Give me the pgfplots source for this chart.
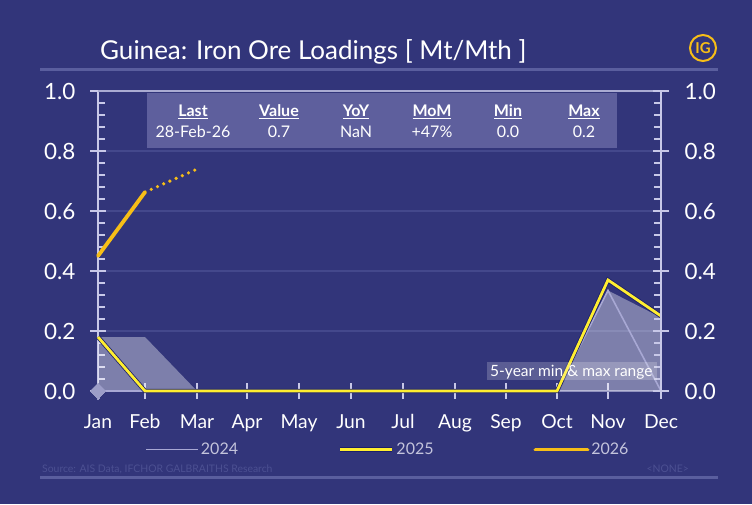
\documentclass[border=0pt]{standalone}
\usepackage{pgfplots}
\pgfplotsset{compat=1.18}
\usepackage{fontspec}
\setmainfont{Lato}
\definecolor{bg}{HTML}{32357A}
\definecolor{sepline}{HTML}{5A5E9E}
\definecolor{axisc}{HTML}{C8C8E8}
\definecolor{gridc}{HTML}{44488C}
\definecolor{boxc}{HTML}{5E5F9D}
\definecolor{c24}{HTML}{A8A8D4}
\definecolor{c25}{HTML}{FFEE30}
\definecolor{c25o}{HTML}{1C1F6A}
\definecolor{c26}{HTML}{F7BE17}
\definecolor{srcc}{HTML}{4C5092}
\definecolor{legtxt}{HTML}{C4C4DC}
\definecolor{diam}{HTML}{9C9DC8}
\begin{document}
\begin{tikzpicture}
\fill[bg] (0pt,0pt) rectangle (752pt,504pt);
% title
\node[anchor=base west,text=white,font=\fontsize{26}{28}\selectfont,inner sep=0] at (100pt,444pt) {Guinea: Iron Ore Loadings [ Mt/Mth ]};
\draw[sepline,line width=3pt] (40pt,434pt) -- (718pt,434pt);
\draw[c26,line width=2pt] (703pt,456pt) circle (13pt);
\node[text=c26,font=\fontsize{15}{16}\selectfont\bfseries,inner sep=0] at (703pt,456pt) {IG};
% bottom
\draw[sepline,line width=3pt] (40pt,27pt) -- (718pt,27pt);
\node[anchor=base west,text=srcc,font=\fontsize{10.4}{12}\selectfont,inner sep=0] at (42pt,32pt) {Source: AIS Data, IFCHOR GALBRAITHS Research};
\node[anchor=base east,text=srcc,font=\fontsize{10.4}{12}\selectfont,inner sep=0] at (689pt,32pt) {<NONE>};

\begin{axis}[
  at={(98pt,113pt)}, anchor=south west,
  scale only axis, width=563pt, height=300pt,
  xmin=0, xmax=563, ymin=0, ymax=1,
  clip=false,
  axis x line*=bottom, axis y line*=left,
  x axis line style={draw=axisc!60!bg,line width=1.5pt},
  y axis line style={draw=axisc,line width=1.8pt},
  xtick={0,47,99,149,201,253,305,357,408,459,510,563},
  xticklabels={Jan,Feb,Mar,Apr,May,Jun,Jul,Aug,Sep,Oct,Nov,Dec},
  ytick={0,0.2,0.4,0.6,0.8,1.0},
  yticklabels={0.0,0.2,0.4,0.6,0.8,1.0},
  minor y tick num=4,
  tick align=center,
  major tick length=16pt,
  minor tick length=7pt,
  every tick/.style={axisc,line width=1.3pt},
  every minor tick/.style={axisc,line width=1.3pt,xshift=3.5pt},
  ymajorgrids, grid style={gridc,line width=1.5pt},
  ticklabel style={text=white},
  yticklabel style={font=\fontsize{22.4}{24}\selectfont, xshift=-11pt},
  xticklabel style={font=\fontsize{19.3}{21}\selectfont, yshift=-12pt},
  /pgf/number format/assume math mode=true,
  legend columns=3,
  legend style={at={(0.515,-0.195)},anchor=center,draw=none,fill=none,
    text=legtxt,font=\fontsize{16}{18}\selectfont,
    /tikz/every even column/.append style={column sep=98pt}},
  legend image code/.code={\draw[#1] (0pt,0pt) -- (52pt,0pt);},
]
% band
\addplot[draw=none,fill=white,fill opacity=0.37,forget plot] coordinates {
(0,0.18) (47,0.18) (99,0) (149,0) (201,0) (253,0) (305,0) (357,0) (408,0) (459,0) (510,0.335) (563,0.245)} \closedcycle;
\addplot[c24,line width=1.6pt] coordinates {
(0,0) (47,0) (99,0) (149,0) (201,0) (253,0) (305,0) (357,0) (408,0) (459,0) (510,0.335) (563,0)};
\addlegendentry{2024}
\addplot[c25,line width=2.8pt,preaction={draw=c25o,line width=4.4pt}] coordinates {
(0,0.18) (47,0) (99,0) (149,0) (201,0) (253,0) (305,0) (357,0) (408,0) (459,0) (510,0.37) (563,0.25)};
\addlegendentry{2025}
\addplot[c26,line width=3.8pt,line cap=round] coordinates {(0,0.45) (47,0.663)};
\addlegendentry{2026}
\addplot[c26,line width=3.6pt,line cap=round,dash pattern=on 0pt off 6.8pt,forget plot] coordinates {(47,0.663) (98,0.738)};
\addplot[only marks,mark=diamond*,mark size=8pt,mark options={fill=diam,draw=diam,line width=0pt,xscale=1.33},forget plot] coordinates {(0,0)};
% top line
\draw[axisc!80!bg,line width=1.5pt] (axis cs:0,1) -- (axis cs:563,1);
% table
\fill[boxc] (axis cs:49,0.993) rectangle (axis cs:519,0.81);
\end{axis}

\begin{axis}[
  at={(98pt,113pt)}, anchor=south west,
  scale only axis, width=563pt, height=300pt,
  xmin=0, xmax=563, ymin=0, ymax=1,
  axis x line=none, axis y line*=right,
  y axis line style={draw=axisc,line width=1.8pt},
  ytick={0,0.2,0.4,0.6,0.8,1.0},
  yticklabels={0.0,0.2,0.4,0.6,0.8,1.0},
  minor y tick num=4,
  tick align=center,
  major tick length=16pt,
  minor tick length=7pt,
  every tick/.style={axisc,line width=1.3pt},
  every minor tick/.style={axisc,line width=1.3pt,xshift=-3.5pt},
  ticklabel style={text=white},
  yticklabel style={font=\fontsize{22.4}{24}\selectfont, xshift=12pt},
  /pgf/number format/assume math mode=true,
]
\addplot[draw=none] coordinates {(0,0)};
\end{axis}

% table text
\begin{scope}[every node/.style={text=white,font=\fontsize{16}{18}\selectfont,inner sep=0,anchor=base}]
\foreach \x/\h/\v in {193/Last/28-Feb-26,279/Value/0.7,356/YoY/NaN,432/MoM/+47\%,508/Min/0.0,584/Max/0.2}{
  \node at (\x pt,387pt) {\bfseries\underline{\h}};
  \node at (\x pt,366pt) {\v};
}
\end{scope}
% range label
\fill[white,opacity=0.2] (487pt,124pt) rectangle (657pt,142pt);
\node[anchor=base west,text=white,font=\fontsize{15.5}{17}\selectfont,inner sep=0] at (490pt,128pt) {5-year min \& max range};
\end{tikzpicture}
\end{document}
